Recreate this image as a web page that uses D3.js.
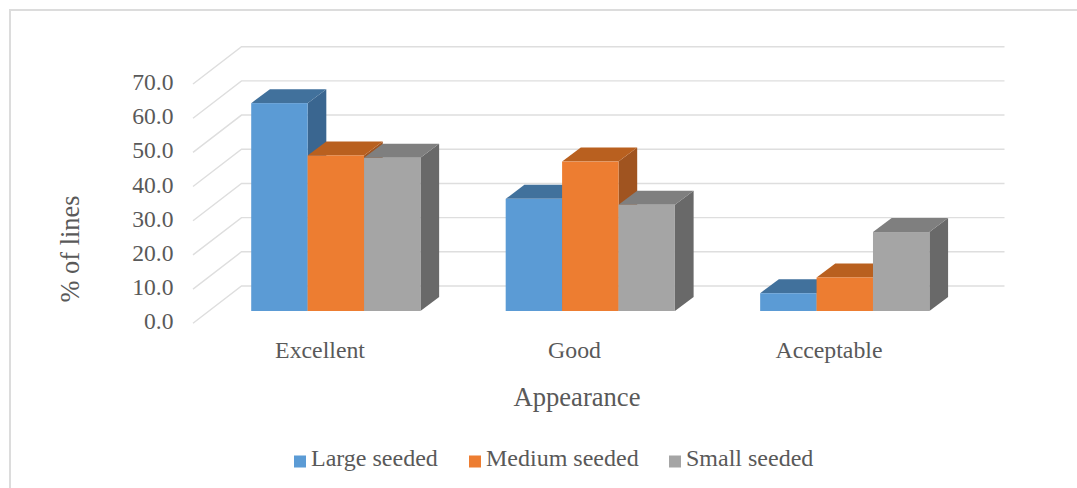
<!DOCTYPE html>
<html>
<head>
<meta charset="utf-8">
<script src="https://cdnjs.cloudflare.com/ajax/libs/d3/7.8.5/d3.min.js"></script>
<style>
  html, body { margin: 0; padding: 0; background: #fff; }
  svg { display: block; }
  text { font-family: "Liberation Serif", "Times New Roman", serif; fill: #595959; }
</style>
</head>
<body>
<svg id="chart" width="1077" height="488"></svg>
<script>
const categories = ["Excellent", "Good", "Acceptable"];
const seriesNames = ["Large seeded", "Medium seeded", "Small seeded"];
const largeSeeded = [60.8, 32.8, 5.2];
const mediumSeeded = [45.5, 43.7, 9.8];
const smallSeeded = [44.8, 31.1, 23.1];
const seriesValues = [largeSeeded, mediumSeeded, smallSeeded];
const yTicks = [0, 10, 20, 30, 40, 50, 60, 70];

const faceColors = ["#5B9BD5", "#ED7D31", "#A5A5A5"];
const topColors = ["#41719C", "#B9601F", "#7F7F7F"];
const sideColors = ["#3A6690", "#A05420", "#696969"];

const svg = d3.select("#chart");

// Chart frame: the top and left edges
svg.append("path")
  .attr("d", d3.line()([[10, 488], [10, 10], [1077, 10]]))
  .attr("fill", "none").attr("stroke", "#DCDCDC").attr("stroke-width", 2);

// Back wall of the 3D plot area
const wallLeft = 241.5, wallRight = 1004.5;
const y = d3.scaleLinear().domain([0, 70]).range([286, 46.7]);
const x = d3.scaleBand().domain(categories).range([wallLeft, wallRight])
  .paddingInner(0.335).paddingOuter(1 / 6);
const xSeries = d3.scaleBand().domain(seriesNames).range([0, x.bandwidth()]);

// Projection of the depth axis onto the page
const floorDx = -48.5, floorDy = 37.3;
const barFrontShift = { dx: -32.7, dy: 25 };
const barDepth = { dx: 18.7, dy: -14 };

const grid = svg.append("g").attr("fill", "none").attr("stroke", "#DEDEDE").attr("stroke-width", 1.4);
yTicks.forEach(t => {
  const py = y(t);
  grid.append("path").attr("d", d3.line()([
    [wallLeft + floorDx, py + floorDy],
    [wallLeft, py],
    [wallRight, py]
  ]));
});

// Bars: painted back to front within each group, left to right
const bars = svg.append("g");
categories.forEach((cat, ci) => {
  seriesNames.forEach((name, si) => {
    const v = seriesValues[si][ci];
    const x0 = x(cat) + xSeries(name) + barFrontShift.dx;
    const x1 = x0 + xSeries.bandwidth();
    const yTop = y(v) + barFrontShift.dy;
    const yBase = y(0) + barFrontShift.dy;
    const d = barDepth;
    bars.append("path").attr("fill", sideColors[si]).attr("d", d3.line()([
      [x1, yTop], [x1 + d.dx, yTop + d.dy], [x1 + d.dx, yBase + d.dy], [x1, yBase]
    ]) + "Z");
    bars.append("path").attr("fill", topColors[si]).attr("d", d3.line()([
      [x0, yTop], [x0 + d.dx, yTop + d.dy], [x1 + d.dx, yTop + d.dy], [x1, yTop]
    ]) + "Z");
    bars.append("rect").attr("fill", faceColors[si])
      .attr("x", x0).attr("y", yTop)
      .attr("width", x1 - x0).attr("height", yBase - yTop);
  });
});

// Value axis labels
svg.append("g").selectAll("text").data(yTicks).join("text")
  .attr("x", 173.5)
  .attr("y", t => y(t) + floorDy - 2)
  .attr("text-anchor", "end")
  .attr("dominant-baseline", "central")
  .attr("font-size", 23.6)
  .text(t => d3.format(".1f")(t));

// Category labels sit under the front edge of the floor
svg.append("g").selectAll("text").data(categories).join("text")
  .attr("x", c => x(c) + x.bandwidth() / 2 + floorDx)
  .attr("y", 358)
  .attr("text-anchor", "middle")
  .attr("font-size", 23.8)
  .text(c => c);

// Axis titles
svg.append("text")
  .attr("transform", "translate(79,249) rotate(-90)")
  .attr("text-anchor", "middle")
  .attr("font-size", 26.4)
  .text("% of lines");
svg.append("text")
  .attr("x", 577).attr("y", 406)
  .attr("text-anchor", "middle")
  .attr("font-size", 26.6)
  .text("Appearance");

// Legend
const legendX = [294, 469, 669];
const legend = svg.append("g");
seriesNames.forEach((name, i) => {
  legend.append("rect")
    .attr("x", legendX[i]).attr("y", 455.5)
    .attr("width", 12).attr("height", 12)
    .attr("fill", faceColors[i]);
  legend.append("text")
    .attr("x", legendX[i] + 17).attr("y", 465.5)
    .attr("font-size", 24)
    .text(name);
});
</script>
</body>
</html>
